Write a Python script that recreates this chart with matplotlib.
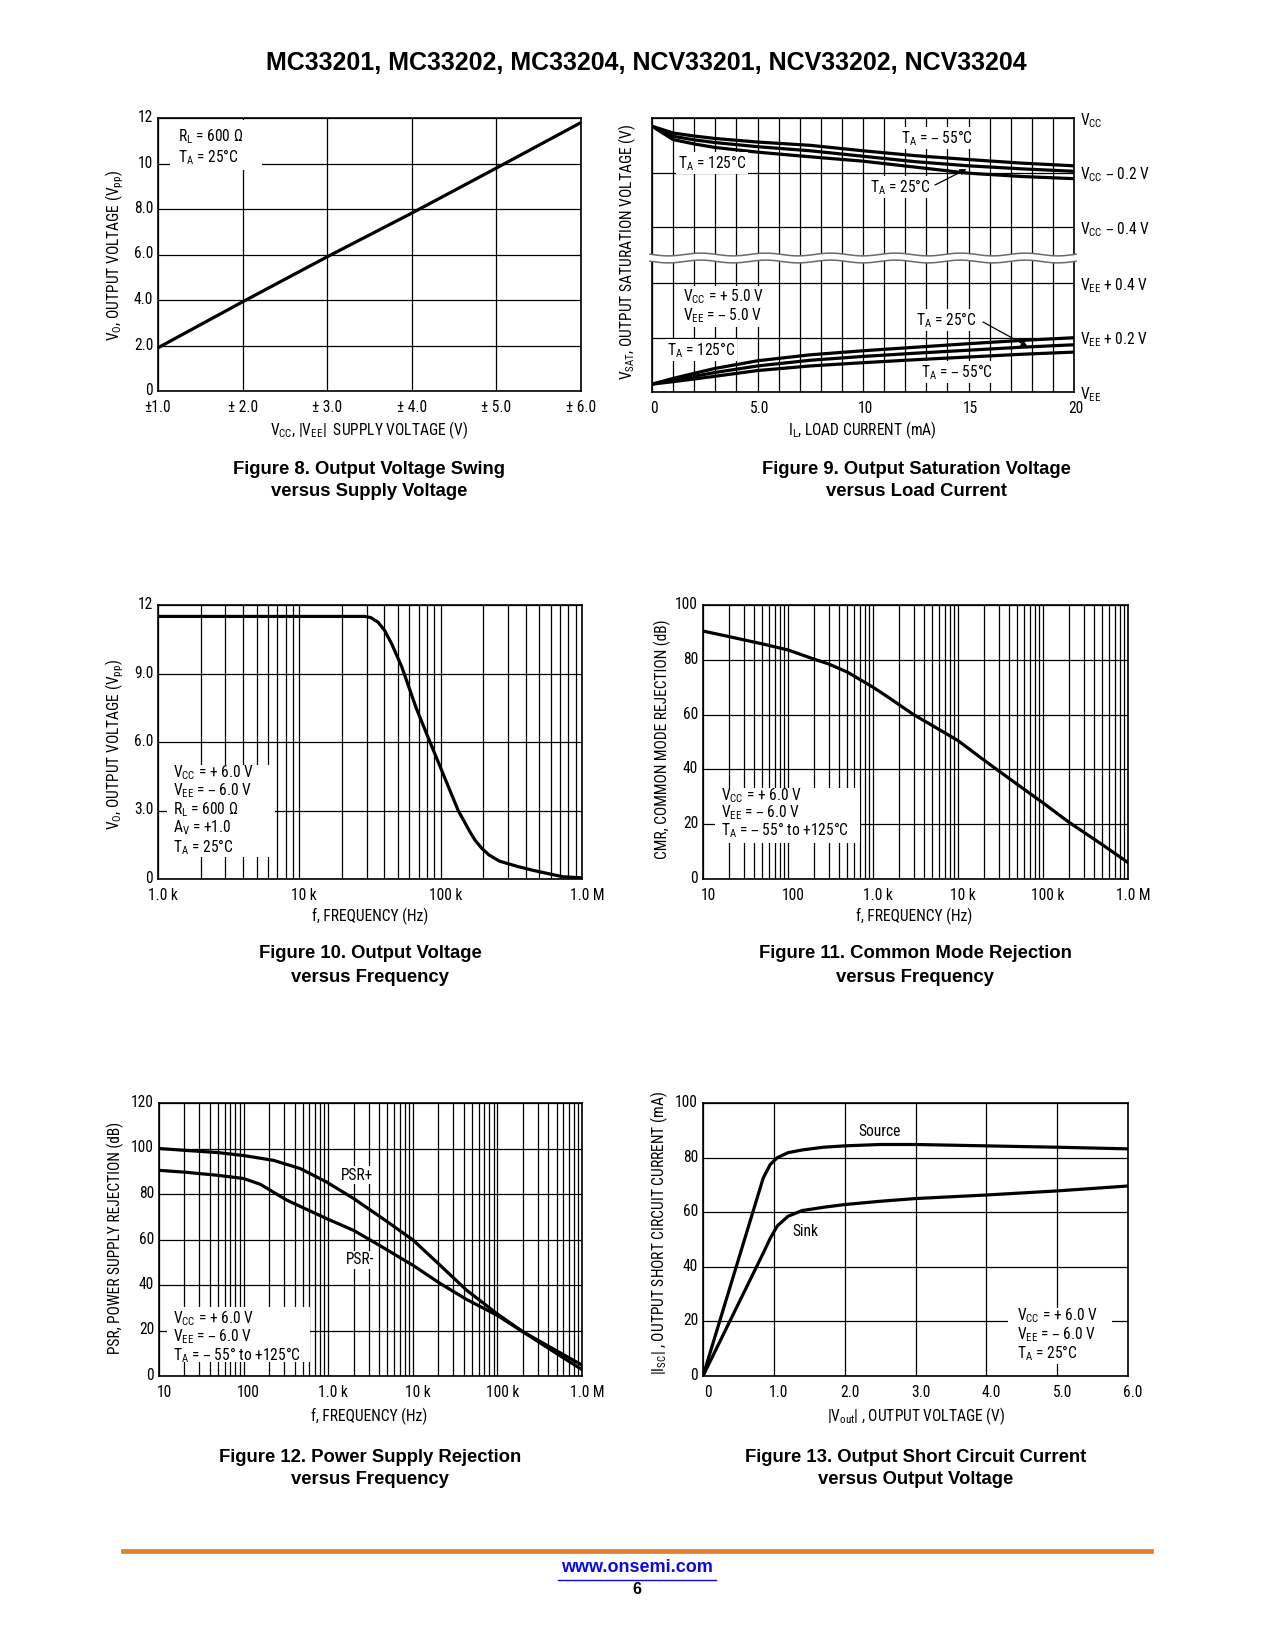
import numpy as np
import matplotlib
matplotlib.use('Agg')
import matplotlib.pyplot as plt
from matplotlib import font_manager
from matplotlib.ticker import MultipleLocator, LogLocator, NullFormatter
from matplotlib.patches import Rectangle
from matplotlib.lines import Line2D
import matplotlib.transforms as mtransforms

# ---------------- data ----------------
# Figure 8
f8_supply = [1.0, 2.0, 3.0, 4.0, 5.0, 6.0]
f8_vout = [1.9, 3.92, 5.9, 7.82, 9.8, 11.8]

# Figure 9 (offset from the rail in volts)
f9_il = [0, 1, 2, 3, 5, 7.5, 10, 12.5, 15, 17.5, 20]
f9_hi_m55 = [0.03, 0.055, 0.066, 0.075, 0.088, 0.100, 0.120, 0.138, 0.152, 0.165, 0.175]
f9_hi_25 = [0.03, 0.067, 0.080, 0.090, 0.105, 0.120, 0.140, 0.160, 0.175, 0.186, 0.195]
f9_hi_125 = [0.03, 0.079, 0.095, 0.108, 0.125, 0.142, 0.158, 0.180, 0.202, 0.214, 0.222]
f9_lo_125 = [0.029, 0.050, 0.069, 0.087, 0.115, 0.137, 0.152, 0.165, 0.178, 0.190, 0.200]
f9_lo_25 = [0.029, 0.044, 0.058, 0.072, 0.096, 0.117, 0.131, 0.143, 0.154, 0.165, 0.174]
f9_lo_m55 = [0.029, 0.038, 0.048, 0.058, 0.079, 0.096, 0.108, 0.119, 0.129, 0.139, 0.147]

# Figure 10
f10_freq = [1e3, 5e3, 1e4, 2e4, 2.9e4, 3.2e4, 3.6e4, 4.0e4, 4.5e4, 5.3e4, 6.7e4, 8.4e4,
            1.01e5, 1.33e5, 1.6e5, 1.75e5, 1.95e5, 2.2e5, 2.61e5, 3.5e5, 4.5e5, 7.3e5, 1e6]
f10_vout = [11.5, 11.5, 11.5, 11.5, 11.5, 11.45, 11.25, 10.9, 10.3, 9.3, 7.5, 6.0,
            4.8, 3.0, 2.1, 1.7, 1.35, 1.05, 0.78, 0.55, 0.38, 0.1, 0.05]

# Figure 11
f11_freq = [10, 20, 50, 100, 200, 300, 500, 1000, 1500, 3000, 5000, 1e4, 2e4, 3e4,
            5e4, 1e5, 2e5, 5e5, 1e6]
f11_cmr = [90.5, 88.5, 85.8, 83.6, 80.3, 78.5, 75.5, 70.0, 66.4, 60.0, 56.0, 50.5,
           43.5, 39.5, 34.5, 27.8, 20.8, 12.5, 6.0]

# Figure 12
f12_freq_p = [10, 20, 50, 100, 225, 466, 955, 2000, 4500, 1.01e4, 2.1e4, 4.3e4,
              9.8e4, 1.99e5, 5e5, 1e6]
f12_psr_p = [100, 99.2, 98.2, 96.9, 94.8, 91.2, 85.3, 78.0, 69.0, 59.7, 48.7, 37.8,
             27.5, 19.5, 9.9, 2.8]
f12_freq_n = [10, 20, 50, 100, 157, 324, 955, 2000, 4000, 1e4, 2.1e4, 4.3e4, 9.8e4,
              1.99e5, 5e5, 1e6]
f12_psr_n = [90.4, 89.6, 88.2, 86.8, 84.3, 77.3, 69.2, 64.0, 57.5, 48.7, 40.7, 33.7,
             26.8, 19.5, 11.1, 4.8]

# Figure 13
f13_v_src = [0, 0.85, 0.95, 1.05, 1.2, 1.4, 1.7, 2.0, 2.5, 3.0, 4.0, 5.0, 6.0]
f13_i_src = [0, 72.5, 77.5, 80, 81.8, 82.8, 83.8, 84.3, 84.8, 84.8, 84.3, 83.8, 83.2]
f13_v_snk = [0, 0.85, 0.95, 1.05, 1.2, 1.4, 1.7, 2.0, 2.5, 3.0, 4.0, 5.0, 6.0]
f13_i_snk = [0, 45, 50.5, 55, 58.5, 60.6, 61.8, 62.8, 64.0, 65.0, 66.3, 67.8, 69.6]

# ---------------- fonts ----------------
names = {f.name for f in font_manager.fontManager.ttflist}
NARROW = None
STRETCH = 'normal'
for c in ['Liberation Sans Narrow', 'Arial Narrow', 'Roboto Condensed',
          'Noto Sans Condensed', 'Open Sans Condensed', 'DejaVu Sans Condensed']:
    if c in names:
        NARROW = c
        break
if NARROW is None:
    for f in font_manager.fontManager.ttflist:
        if f.name in ('DejaVu Sans', 'Noto Sans', 'Open Sans', 'Roboto') and \
                str(f.stretch) in ('condensed', 'semi-condensed'):
            NARROW = f.name
            STRETCH = str(f.stretch)
            break
if NARROW is None:
    NARROW = 'Liberation Sans'
    FS = 9.4
elif NARROW in ('Liberation Sans Narrow', 'Arial Narrow'):
    FS = 10.2
else:
    FS = 11.2

plt.rcParams['font.family'] = [NARROW, 'DejaVu Sans']
plt.rcParams['font.stretch'] = STRETCH
plt.rcParams['mathtext.default'] = 'regular'
BOLD = ['Liberation Sans', 'DejaVu Sans']

W, H, DPI = 1275, 1650, 100
fig = plt.figure(figsize=(W / DPI, H / DPI), dpi=DPI)
fig.patch.set_facecolor('white')


def px_axes(l, t, r, b):
    return fig.add_axes([l / W, 1 - b / H, (r - l) / W, (b - t) / H])


def ftext(x, y, s, **kw):
    return fig.text(x / W, 1 - y / H, s, **kw)


def atext(ax, x, y, s, **kw):
    kw.setdefault('va', 'center')
    kw.setdefault('ha', 'left')
    kw.setdefault('fontsize', FS)
    return ax.text(x / W, 1 - y / H, s, transform=fig.transFigure, zorder=4, **kw)


def wbox(ax, l, t, r, b):
    ax.add_patch(Rectangle((l / W, 1 - b / H), (r - l) / W, (b - t) / H,
                           transform=fig.transFigure, fc='white', ec='none', zorder=1))


def style(ax, xpad=6.5):
    ax.set_axisbelow(True)
    for sp in ax.spines.values():
        sp.set_linewidth(1.2)
        sp.set_color('black')
    ax.tick_params(which='both', length=0, labelsize=FS)
    ax.tick_params(axis='x', pad=xpad)
    ax.tick_params(axis='y', pad=3.5)
    ax.grid(which='both', color='black', lw=0.9)


def shift_labels(ax, dx_px, dy_px=2):
    offx = mtransforms.ScaledTranslation(dx_px / DPI, 0, fig.dpi_scale_trans)
    for lab in ax.get_xticklabels():
        lab.set_transform(lab.get_transform() + offx)
    offy = mtransforms.ScaledTranslation(0, dy_px / DPI, fig.dpi_scale_trans)
    for lab in ax.get_yticklabels():
        lab.set_transform(lab.get_transform() + offy)


LW = 2.3
SUB = lambda a, b: r'$\mathregular{' + a + '_{' + b + '}}$'

# ---------------- header / footer ----------------
ftext(646, 63, 'MC33201, MC33202, MC33204, NCV33201, NCV33202, NCV33204',
      ha='center', va='center', fontsize=18, fontweight='bold', family=BOLD)
fig.add_artist(Line2D([123 / W, 1151 / W], [1 - 1550.5 / H] * 2, color='#DA8237', lw=3.4))
ftext(637, 1567, 'www.onsemi.com', ha='center', va='center', fontsize=13,
      fontweight='bold', color='#0A0AE6', family=BOLD)
fig.add_artist(Line2D([558 / W, 716 / W], [1 - 1579.5 / H] * 2, color='#0A0AE6', lw=1.0))
ftext(637, 1589, '6', ha='center', va='center', fontsize=11.5, fontweight='bold', family=BOLD)


def caption(xc, y1, l1, l2):
    ftext(xc, y1, l1, ha='center', va='center', fontsize=13.3, fontweight='bold', family=BOLD)
    ftext(xc, y1 + 23, l2, ha='center', va='center', fontsize=13.3, fontweight='bold', family=BOLD)


# ---------------- Figure 8 ----------------
ax8 = px_axes(158, 118, 581, 391)
style(ax8)
ax8.plot(f8_supply, f8_vout, color='black', lw=LW, zorder=2, solid_capstyle='butt')
ax8.set_xlim(1, 6)
ax8.set_ylim(0, 12)
ax8.set_xticks([1, 2, 3, 4, 5, 6], ['±1.0', '± 2.0', '± 3.0', '± 4.0', '± 5.0', '± 6.0'])
ax8.set_yticks([0, 2, 4, 6, 8, 10, 12], ['0', '2.0', '4.0', '6.0', '8.0', '10', '12'])
wbox(ax8, 170, 120, 262, 170)
atext(ax8, 178, 137, SUB('R', 'L') + ' = 600 Ω')
atext(ax8, 178, 157, SUB('T', 'A') + ' = 25°C')
ftext(369, 430, SUB('V', 'CC') + ', ' + r'$\mathregular{|V_{EE}|}$' + '  SUPPLY VOLTAGE (V)',
      ha='center', va='center', fontsize=FS)
ftext(115, 256, SUB('V', 'O') + ', OUTPUT VOLTAGE (' + SUB('V', 'pp') + ')',
      ha='center', va='center', rotation=90, fontsize=FS)
shift_labels(ax8, 0)
caption(369, 469, 'Figure 8. Output Voltage Swing', 'versus Supply Voltage')

# ---------------- Figure 9 ----------------
L9, R9 = 652, 1074
ax9t = px_axes(L9, 118, R9, 256)
ax9b = px_axes(L9, 259, R9, 392)
for ax in (ax9t, ax9b):
    style(ax)
    ax.set_xlim(0, 20)
    ax.xaxis.set_major_locator(MultipleLocator(5))
    ax.xaxis.set_minor_locator(MultipleLocator(1))
    ax.yaxis.tick_right()
    ax.tick_params(axis='y', pad=4)
ax9t.spines['bottom'].set_visible(False)
ax9b.spines['top'].set_visible(False)
ax9t.set_ylim(-0.505, 0)
ax9b.set_ylim(0, 0.49)
ax9t.set_yticks([0, -0.2, -0.4], [SUB('V', 'CC'), SUB('V', 'CC') + ' – 0.2 V',
                                  SUB('V', 'CC') + ' – 0.4 V'])
ax9b.set_yticks([0.4, 0.2, 0], [SUB('V', 'EE') + ' + 0.4 V', SUB('V', 'EE') + ' + 0.2 V',
                                SUB('V', 'EE')])
ax9t.tick_params(axis='x', labelbottom=False)
ax9b.set_xticks([0, 5, 10, 15, 20], ['0', '5.0', '10', '15', '20'])
for ys in (f9_hi_m55, f9_hi_25, f9_hi_125):
    ax9t.plot(f9_il, [-v for v in ys], color='black', lw=LW, zorder=2)
for ys in (f9_lo_125, f9_lo_25, f9_lo_m55):
    ax9b.plot(f9_il, ys, color='black', lw=LW, zorder=2)

# axis break
xs = np.linspace(L9 - 2, R9 + 2, 300)
wv = 1.4 * np.sin((xs - L9) / (R9 - L9) * 2 * np.pi * 6.5)
fig.add_artist(matplotlib.patches.Polygon(
    np.column_stack([np.r_[xs, xs[::-1]] / W,
                     1 - np.r_[254.5 + wv, (261.5 + wv)[::-1]] / H]),
    closed=True, fc='white', ec='none', transform=fig.transFigure, zorder=5))
for yb in (254.5, 261.5):
    fig.add_artist(Line2D(xs / W, 1 - (yb + wv) / H, color='#6a6a6a', lw=1.1, zorder=6))

wb = dict(fc='white', ec='none', pad=1.0)
atext(ax9t, 937, 138, SUB('T', 'A') + ' = – 55°C', ha='center', bbox=wb)
atext(ax9t, 712, 163, SUB('T', 'A') + ' = 125°C', ha='center', bbox=wb)
atext(ax9t, 900, 187, SUB('T', 'A') + ' = 25°C', ha='center', bbox=wb)
ax9t.annotate('', xy=(14.9, -0.187), xycoords='data',
              xytext=(935 / W, 1 - 185 / H), textcoords='figure fraction',
              arrowprops=dict(arrowstyle='-|>', color='black', lw=0.9,
                              mutation_scale=9, shrinkA=0, shrinkB=0), zorder=4)
atext(ax9b, 683, 297, SUB('V', 'CC') + ' = + 5.0 V', bbox=wb)
atext(ax9b, 683, 316, SUB('V', 'EE') + ' = – 5.0 V', bbox=wb)
atext(ax9b, 946, 320, SUB('T', 'A') + ' = 25°C', ha='center', bbox=wb)
ax9b.annotate('', xy=(17.8, 0.168), xycoords='data',
              xytext=(983 / W, 1 - 322 / H), textcoords='figure fraction',
              arrowprops=dict(arrowstyle='-|>', color='black', lw=0.9,
                              mutation_scale=9, shrinkA=0, shrinkB=0), zorder=4)
atext(ax9b, 701, 350, SUB('T', 'A') + ' = 125°C', ha='center', bbox=wb)
atext(ax9b, 957, 372, SUB('T', 'A') + ' = – 55°C', ha='center', bbox=wb)
ftext(862, 430, SUB('I', 'L') + ', LOAD CURRENT (mA)', ha='center', va='center', fontsize=FS)
ftext(627, 252, SUB('V', 'SAT') + ', OUTPUT SATURATION VOLTAGE (V)',
      ha='center', va='center', rotation=90, fontsize=FS)
shift_labels(ax9b, 2, 0)
caption(916, 469, 'Figure 9. Output Saturation Voltage', 'versus Load Current')


def log_axis(ax, lo, hi, labels):
    ax.set_xscale('log')
    ax.set_xlim(lo, hi)
    ticks = [10.0 ** k for k in range(int(np.log10(lo)), int(np.log10(hi)) + 1)]
    ax.set_xticks(ticks, labels)
    ax.xaxis.set_minor_locator(LogLocator(base=10, subs=range(2, 10), numticks=20))
    ax.xaxis.set_minor_formatter(NullFormatter())


# ---------------- Figure 10 ----------------
ax10 = px_axes(158, 605, 582, 879)
style(ax10)
log_axis(ax10, 1e3, 1e6, ['1.0 k', '10 k', '100 k', '1.0 M'])
ax10.set_ylim(0, 12)
ax10.set_yticks([0, 3, 6, 9, 12], ['0', '3.0', '6.0', '9.0', '12'])
ax10.plot(f10_freq, f10_vout, color='black', lw=LW, zorder=2)
wbox(ax10, 167, 765, 275, 857)
for yy, s in zip([773, 791, 810, 828, 847],
                 [SUB('V', 'CC') + ' = + 6.0 V', SUB('V', 'EE') + ' = – 6.0 V',
                  SUB('R', 'L') + ' = 600 Ω', SUB('A', 'V') + ' = +1.0',
                  SUB('T', 'A') + ' = 25°C']):
    atext(ax10, 173, yy, s)
ftext(370, 916, 'f, FREQUENCY (Hz)', ha='center', va='center', fontsize=FS)
ftext(115, 745, SUB('V', 'O') + ', OUTPUT VOLTAGE (' + SUB('V', 'pp') + ')',
      ha='center', va='center', rotation=90, fontsize=FS)
shift_labels(ax10, 5)
caption(370, 954, 'Figure 10. Output Voltage', 'versus Frequency')

# ---------------- Figure 11 ----------------
ax11 = px_axes(703, 605, 1128, 879)
style(ax11)
log_axis(ax11, 10, 1e6, ['10', '100', '1.0 k', '10 k', '100 k', '1.0 M'])
ax11.set_ylim(0, 100)
ax11.set_yticks([0, 20, 40, 60, 80, 100])
ax11.plot(f11_freq, f11_cmr, color='black', lw=LW, zorder=2)
wbox(ax11, 715, 788, 860, 843)
for yy, s in zip([796, 813, 830],
                 [SUB('V', 'CC') + ' = + 6.0 V', SUB('V', 'EE') + ' = – 6.0 V',
                  SUB('T', 'A') + ' = – 55° to +125°C']):
    atext(ax11, 721, yy, s)
ftext(914, 916, 'f, FREQUENCY (Hz)', ha='center', va='center', fontsize=FS)
ftext(662, 739, 'CMR, COMMON MODE REJECTION (dB)',
      ha='center', va='center', rotation=90, fontsize=FS)
shift_labels(ax11, 5)
caption(915, 954, 'Figure 11. Common Mode Rejection', 'versus Frequency')

# ---------------- Figure 12 ----------------
ax12 = px_axes(159, 1103, 582, 1376)
style(ax12)
log_axis(ax12, 10, 1e6, ['10', '100', '1.0 k', '10 k', '100 k', '1.0 M'])
ax12.set_ylim(0, 120)
ax12.set_yticks([0, 20, 40, 60, 80, 100, 120])
ax12.plot(f12_freq_p, f12_psr_p, color='black', lw=LW, zorder=2)
ax12.plot(f12_freq_n, f12_psr_n, color='black', lw=LW, zorder=2)
wbox(ax12, 167, 1307, 310, 1362)
for yy, s in zip([1319, 1337, 1355],
                 [SUB('V', 'CC') + ' = + 6.0 V', SUB('V', 'EE') + ' = – 6.0 V',
                  SUB('T', 'A') + ' = – 55° to +125°C']):
    atext(ax12, 173, yy, s)
atext(ax12, 357, 1175, 'PSR+', ha='center', bbox=wb)
atext(ax12, 360, 1260, 'PSR-', ha='center', bbox=wb)
ftext(369, 1416, 'f, FREQUENCY (Hz)', ha='center', va='center', fontsize=FS)
ftext(115, 1238, 'PSR, POWER SUPPLY REJECTION (dB)',
      ha='center', va='center', rotation=90, fontsize=FS)
shift_labels(ax12, 5)
caption(370, 1457, 'Figure 12. Power Supply Rejection', 'versus Frequency')

# ---------------- Figure 13 ----------------
ax13 = px_axes(703, 1103, 1128, 1376)
style(ax13)
ax13.set_xlim(0, 6)
ax13.set_ylim(0, 100)
ax13.set_xticks([0, 1, 2, 3, 4, 5, 6], ['0', '1.0', '2.0', '3.0', '4.0', '5.0', '6.0'])
ax13.set_yticks([0, 20, 40, 60, 80, 100])
ax13.plot(f13_v_src, f13_i_src, color='black', lw=LW, zorder=2)
ax13.plot(f13_v_snk, f13_i_snk, color='black', lw=LW, zorder=2)
wbox(ax13, 1008, 1308, 1112, 1364)
for yy, s in zip([1316, 1335, 1353],
                 [SUB('V', 'CC') + ' = + 6.0 V', SUB('V', 'EE') + ' = – 6.0 V',
                  SUB('T', 'A') + ' = 25°C']):
    atext(ax13, 1017, yy, s)
atext(ax13, 880, 1131, 'Source', ha='center')
atext(ax13, 805, 1232, 'Sink', ha='center')
ftext(916, 1416, r'$\mathregular{|V_{out}|}$' + ' , OUTPUT VOLTAGE (V)',
      ha='center', va='center', fontsize=FS)
ftext(659, 1233, r'$\mathregular{|I_{SC}|}$' + ' , OUTPUT SHORT CIRCUIT CURRENT (mA)',
      ha='center', va='center', rotation=90, fontsize=FS)
shift_labels(ax13, 5)
caption(916, 1457, 'Figure 13. Output Short Circuit Current', 'versus Output Voltage')

fig.savefig('out.png', dpi=DPI, facecolor='white')
